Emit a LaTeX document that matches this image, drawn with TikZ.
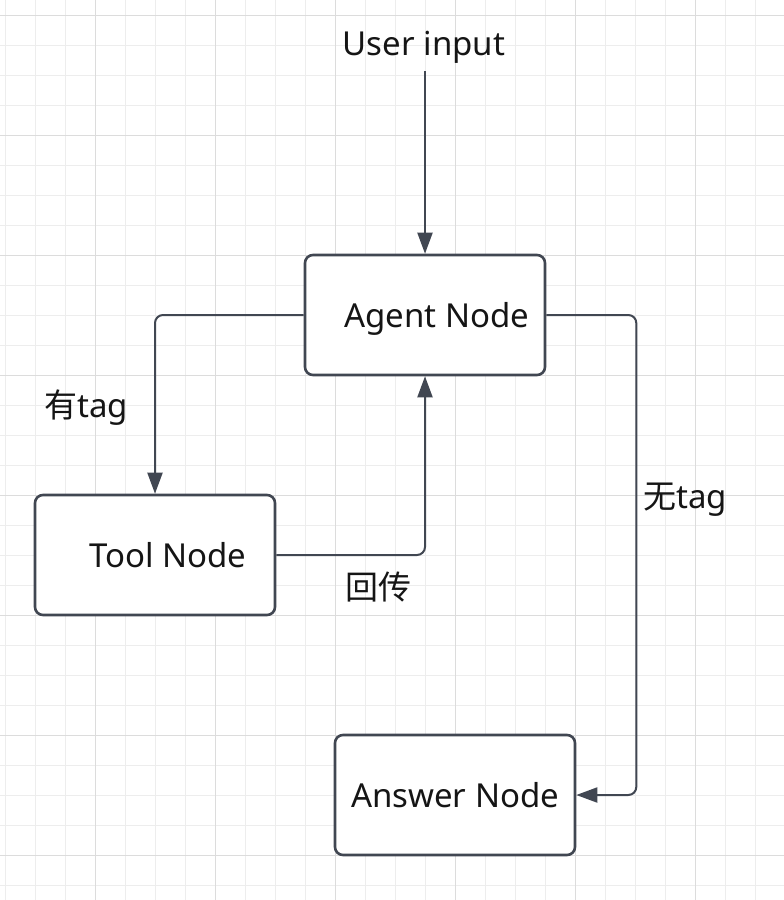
\documentclass[tikz,border=0pt]{standalone}
\usepackage{fontspec}
\setmainfont{Noto Sans}
\newfontfamily\cjk{Noto Sans CJK SC}
\usepackage{tikz}
\usetikzlibrary{arrows.meta}
\definecolor{edgegray}{HTML}{414752}
\definecolor{gridminor}{HTML}{EDEDED}
\definecolor{gridmajor}{HTML}{DCDCDC}
\definecolor{textblack}{HTML}{151515}
\tikzset{
  nodebox/.style = {shape=rectangle, rounded corners=8pt,
                    draw=edgegray, line width=2.6pt, fill=white,
                    anchor=center, inner sep=0pt, text depth=0pt,
                    minimum width=240pt, minimum height=120pt,
                    font=\fontsize{33pt}{39pt}\selectfont, text=textblack},
  tag/.style     = {font=\fontsize{33pt}{39pt}\selectfont,
                    text=textblack, inner sep=0pt},
  flow/.style    = {draw=edgegray, line width=2pt, rounded corners=8pt,
                    -{Triangle[length=21pt,width=15pt]}},
  minorline/.style = {draw=gridminor, line width=1pt},
  majorline/.style = {draw=gridmajor, line width=1pt}
}
\newcommand{\cn}[1]{{\cjk #1}}

\begin{document}
\begin{tikzpicture}[x=1pt, y=-1pt]
  \useasboundingbox (0,0) rectangle (784,900);

  % background grid
  \foreach \gx in {5,35,...,785}
    \draw[minorline] (\gx,0) -- (\gx,900);
  \foreach \gy in {15,45,...,885}
    \draw[minorline] (0,\gy) -- (784,\gy);
  \foreach \gx in {95,215,...,695}
    \draw[majorline] (\gx,0) -- (\gx,900);
  \foreach \gy in {15,135,...,855}
    \draw[majorline] (0,\gy) -- (784,\gy);

  \node[tag, anchor=base] (user) at (424,55) {User input};
  \node[nodebox] (agent)  at (425,315) {\hspace*{24pt}Agent Node};
  \node[nodebox] (tool)   at (155,555) {\hspace*{26pt}Tool Node};
  \node[nodebox] (answer) at (455,795) {Answer Node};

  \node[tag, anchor=base west] (withtag) at (44,417)  {\cn{有}tag};
  \node[tag, anchor=base west] (notag)   at (643,508) {\cn{无}tag};
  \node[tag, anchor=base west] (back)    at (345,599) {\cn{回传}};

  \draw[flow] ([yshift=-8pt]user.south -| agent.north) -- (agent.north);
  \draw[flow] (agent.west) -| (tool.north);
  \draw[flow] (tool.east) -| (agent.south);
  \draw[flow] (agent.east) -- ++(90,0) |- (answer.east);

\end{tikzpicture}
\end{document}
